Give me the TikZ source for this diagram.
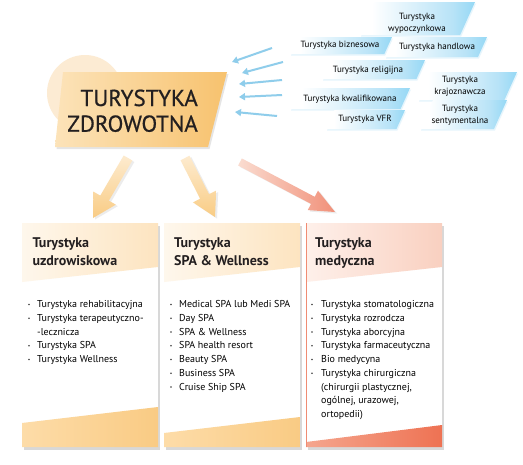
\documentclass[tikz,border=0pt]{standalone}
\usepackage{fontspec}
\setmainfont{PT Sans}
\newfontfamily\titlefont[FakeBold=0.7]{PT Sans}
\usetikzlibrary{calc,arrows.meta,shadows}
\definecolor{txt}{HTML}{231F20}
\definecolor{bl1}{HTML}{B8E3F7}
\definecolor{bl2}{HTML}{3FBDF0}
\definecolor{arrbl}{HTML}{8FCDEB}
\definecolor{circ}{HTML}{FCEBD3}
\definecolor{tiL}{HTML}{FCE3B9}
\definecolor{tiR}{HTML}{F7C26E}
\definecolor{oaT}{HTML}{FDEBCF}
\definecolor{oaP}{HTML}{F9CC84}
\definecolor{raT}{HTML}{FADCD0}
\definecolor{raP}{HTML}{F19079}
\definecolor{h1L}{HTML}{FEF7EC}
\definecolor{h1R}{HTML}{FDE4C0}
\definecolor{h3L}{HTML}{FEF0EA}
\definecolor{h3R}{HTML}{F9D0C0}
\definecolor{f1L}{HTML}{FDDCA8}
\definecolor{f1R}{HTML}{F9CB84}
\definecolor{f3L}{HTML}{F5A68E}
\definecolor{f3R}{HTML}{EE7253}
\definecolor{edge3}{HTML}{F08C73}
\pgfdeclarehorizontalshading{bluesh}{100bp}{color(0bp)=(white); color(30bp)=(white); color(65bp)=(bl1); color(100bp)=(bl2)}
\newcommand\blabshape[4]{\shade[shading=bluesh, drop shadow={shadow xshift=1pt, shadow yshift=-1.5pt, opacity=0.35, fill=bl1}] ({#1+0.45*(#4-#3)},#3) -- (#2,#3) -- ({#2-0.45*(#4-#3)},#4) -- (#1,#4) -- cycle;}
\newcommand\blockarrow[6]{%
 \coordinate (#1-h) at ($(#2)!#5!(#1)$);
 \shade[#6] ($(#1)!#3!90:(#2)$) -- ($(#1-h)!#3!90:(#2)$) -- ($(#1-h)!#4!90:(#2)$) -- (#2) -- ($(#1-h)!#4!-90:(#2)$) -- ($(#1-h)!#3!-90:(#2)$) -- ($(#1)!#3!-90:(#2)$) -- cycle;}
\newcommand\bul[2]{\fill[black!75] (#1,{#2-3.2}) circle (0.9pt);}
\tikzset{
 titletext/.style={font=\titlefont\fontsize{23}{25}\selectfont, text=txt, inner sep=0, anchor=base east},
 headtext/.style={font=\bfseries\fontsize{14}{17}\selectfont, text=txt, inner sep=0, anchor=base west},
 itemtext/.style={font=\fontsize{10}{12}\selectfont, text=black, inner sep=0, anchor=base west},
 labtext/.style={font=\fontsize{9}{12}\selectfont, text=black, align=center, inner sep=0},
 barrow/.style={draw=arrbl, line width=2pt, -{Triangle[length=6pt,width=7pt]}},
 boxbase/.style={fill=white, drop shadow={shadow xshift=2pt, shadow yshift=-2.5pt, opacity=0.3}},
 arrshadow/.style={drop shadow={shadow xshift=2pt, shadow yshift=-1.5pt, opacity=0.15}}
}
\begin{document}
\begin{tikzpicture}[x=1pt,y=-1pt]
\useasboundingbox (0,0) rectangle (523,464);
\fill[white] (0,0) rectangle (523,464);

% blue labels
\blabshape{360}{475}{2}{35}
\blabshape{290}{392}{37}{54}
\blabshape{385}{487}{37}{57}
\blabshape{322}{425}{60}{79}
\blabshape{290}{410}{88}{109}
\blabshape{418}{517}{72}{100}
\blabshape{326}{405}{110}{129}
\blabshape{420}{507}{100}{129}
\node[labtext] (l1) at (417,23) {Turystyka\\wypoczynkowa};
\node[labtext] (l2) at (340,45) {Turystyka biznesowa};
\node[labtext] (l3) at (437,47) {Turystyka handlowa};
\node[labtext] (l4) at (368,70) {Turystyka religijna};
\node[labtext] (l5) at (350,99) {Turystyka kwalifikowana};
\node[labtext] (l6) at (460,86) {Turystyka\\krajoznawcza};
\node[labtext] (l7) at (365,119) {Turystyka VFR};
\node[labtext] (l8) at (460,115) {Turystyka\\sentymentalna};

% blue arrows
\coordinate (ba1t) at (272,48); \coordinate (ba1p) at (232,62);
\coordinate (ba2t) at (283,62); \coordinate (ba2p) at (242,73);
\coordinate (ba3t) at (282,80); \coordinate (ba3p) at (239,84);
\coordinate (ba4t) at (282,95); \coordinate (ba4p) at (239,97);
\coordinate (ba5t) at (277,116); \coordinate (ba5p) at (235,112);
\foreach \k in {1,...,5} \draw[barrow] (ba\k t) -- (ba\k p);

% title
\fill[circ] (85,93) circle (38pt);
\shade[left color=tiL, right color=tiR, drop shadow={shadow xshift=1.5pt, shadow yshift=-2pt, opacity=0.2}] (63,72) -- (227,72) -- (208,147) -- (55,147) -- cycle;
\node[titletext] (t1) at (198,106) {TURYSTYKA};
\node[titletext] (t2) at (198,131.7) {ZDROWOTNA};

% big arrows
\coordinate (oa1t) at (128,158); \coordinate (oa1p) at (93,218);
\coordinate (oa2t) at (185,158); \coordinate (oa2p) at (215,217);
\coordinate (oa3t) at (240,162); \coordinate (oa3p) at (335,212);
\blockarrow{oa1t}{oa1p}{5pt}{13pt}{23pt}{top color=oaT, bottom color=oaP, arrshadow}
\blockarrow{oa2t}{oa2p}{5pt}{13pt}{23pt}{top color=oaT, bottom color=oaP, arrshadow}
\blockarrow{oa3t}{oa3p}{4pt}{11pt}{25pt}{left color=raT, right color=raP, arrshadow}

% boxes
\foreach \x/\hL/\hR/\fL/\fR/\bl/\br in {22/h1L/h1R/f1L/f1R/423/407, 164/h1L/h1R/f1L/f1R/433/417, 306/h3L/h3R/f3L/f3R/442/425}{
 \fill[boxbase] (\x,223) rectangle ({\x+136},447);
 \shade[left color=\hL, right color=\hR] (\x,223) -- ({\x+136},223) -- ({\x+136},267) -- (\x,282) -- cycle;
 \shade[left color=\fL, right color=\fR] (\x,\bl) -- ({\x+136},\br) -- ({\x+136},447) -- (\x,447) -- cycle;
}
\draw[edge3, line width=0.8pt] (306,223) -- (306,447);

% headings
\node[headtext] (h1a) at (32.3,247.7) {Turystyka};
\node[headtext] (h1b) at (32.3,265.2) {uzdrowiskowa};
\node[headtext] (h2a) at (174,247.7) {Turystyka};
\node[headtext] (h2b) at (174,265.2) {SPA \& Wellness};
\node[headtext] (h3a) at (315,247.7) {Turystyka};
\node[headtext] (h3b) at (315,265.2) {medyczna};

% box 1 items
\node[itemtext] (i1a) at (37,307.7) {Turystyka rehabilitacyjna}; \bul{29}{307.7}
\node[itemtext] (i1b) at (37,321.45) {Turystyka terapeutyczno-}; \bul{29}{321.45}
\node[itemtext] (i1c) at (37,335.2) {-lecznicza};
\node[itemtext] (i1d) at (37,348.95) {Turystyka SPA}; \bul{29}{348.95}
\node[itemtext] (i1e) at (37,362.7) {Turystyka Wellness}; \bul{29}{362.7}

% box 2 items
\node[itemtext] (i2a) at (179,307.7) {Medical SPA lub Medi SPA}; \bul{171}{307.7}
\node[itemtext] (i2b) at (179,321.45) {Day SPA}; \bul{171}{321.45}
\node[itemtext] (i2c) at (179,335.2) {SPA \& Wellness}; \bul{171}{335.2}
\node[itemtext] (i2d) at (179,348.95) {SPA health resort}; \bul{171}{348.95}
\node[itemtext] (i2e) at (179,362.7) {Beauty SPA}; \bul{171}{362.7}
\node[itemtext] (i2f) at (179,376.45) {Business SPA}; \bul{171}{376.45}
\node[itemtext] (i2g) at (179,390.2) {Cruise Ship SPA}; \bul{171}{390.2}

% box 3 items
\node[itemtext] (i3a) at (321,307.7) {Turystyka stomatologiczna}; \bul{312}{307.7}
\node[itemtext] (i3b) at (321,321.45) {Turystyka rozrodcza}; \bul{312}{321.45}
\node[itemtext] (i3c) at (321,335.2) {Turystyka aborcyjna}; \bul{312}{335.2}
\node[itemtext] (i3d) at (321,348.95) {Turystyka farmaceutyczna}; \bul{312}{348.95}
\node[itemtext] (i3e) at (321,362.7) {Bio medycyna}; \bul{312}{362.7}
\node[itemtext] (i3f) at (321,376.45) {Turystyka chirurgiczna}; \bul{312}{376.45}
\node[itemtext] (i3g) at (321,390.2) {(chirurgii plastycznej,};
\node[itemtext] (i3h) at (321,403.95) {ogólnej, urazowej,};
\node[itemtext] (i3i) at (321,417.7) {ortopedii)};
\end{tikzpicture}
\end{document}
